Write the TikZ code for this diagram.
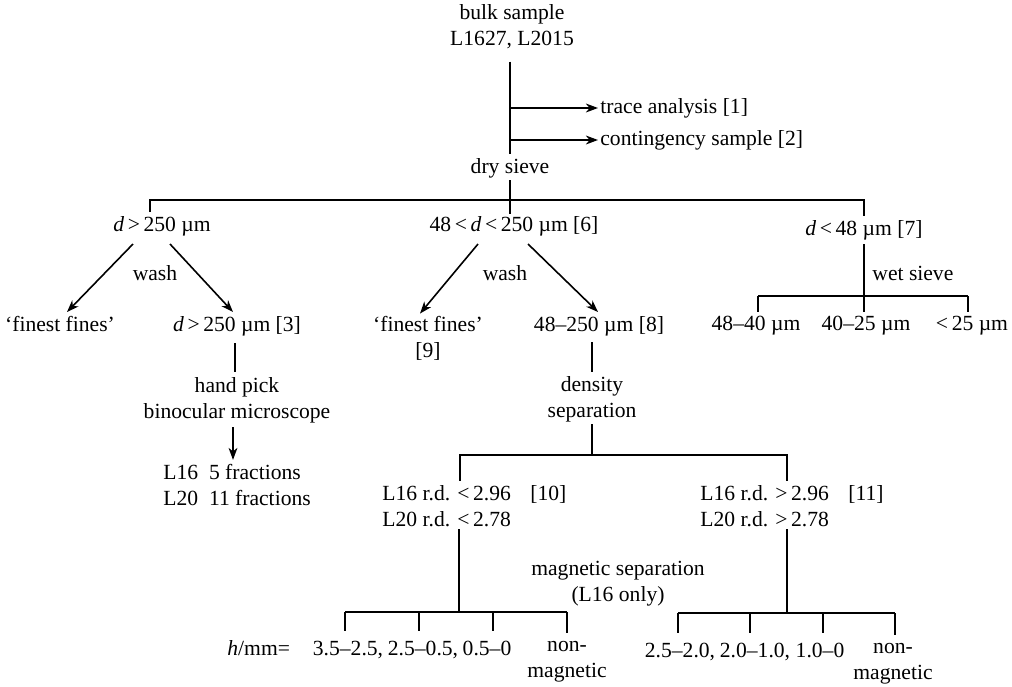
\documentclass[tikz,border=0pt]{standalone}
\usepackage{fontspec}
\setmainfont{Liberation Serif}
\usetikzlibrary{arrows.meta}
\begin{document}
\begin{tikzpicture}[x=0.5pt,y=-0.5pt,
  every node/.style={inner sep=0pt, font=\fontsize{10.8}{13}\selectfont},
  one/.style={text height=7.4pt, text depth=2.2pt},
  multi/.style={align=center},
  ln/.style={line width=1pt},
  tip/.style={-{Stealth[length=6pt,width=4.4pt,inset=1.8pt]}},
  arr/.style={line width=0.8pt, tip},
]
\useasboundingbox (0,0) rectangle (1012,686);

% top
\node[multi] (bulk) at (512,27) {bulk sample\\L1627, L2015};
\node[one] (dry) at (510,168) {dry sieve};
\node[one,anchor=west] (trace) at (600,108) {trace analysis [1]};
\node[one,anchor=west] (cont) at (600,140) {contingency sample [2]};
\coordinate (b1) at (510,108);
\coordinate (b2) at (510,140);
\draw[ln] ([yshift=-6pt]bulk.south -| dry.north) -- ([yshift=2pt]dry.north);
\draw[ln,tip] (b1) -- ([xshift=-1pt]trace.west);
\draw[ln,tip] (b2) -- ([xshift=-1pt]cont.west);

% first split
\node[one] (A) at (162,226) {\textit{d}\,>\,250 µm};
\node[one] (B) at (514,226) {48\,<\,\textit{d}\,<\,250 µm [6]};
\node[one] (C) at (864,230) {\textit{d}\,<\,48 µm [7]};
\coordinate (tl) at (150,200);
\coordinate (tr) at (864,200);
\draw[ln] ([yshift=2pt]A.north -| tl) -- (tl) -- (tr) -- ([yshift=2pt]C.north -| tr);
\draw[ln] ([yshift=-1pt]dry.south) -- ([yshift=1pt]dry.south |- B.north);

% second row
\node[one] (F1) at (60,326) {‘finest fines’};
\node[one] (D) at (237,326) {\textit{d}\,>\,250 µm [3]};
\node[multi] (F2) at (428,338) {‘finest fines’\\{[9]}};
\node[one] (E) at (599,326) {48–250 µm [8]};
\node[one] (wash1) at (155,275) {wash};
\node[one] (wash2) at (505,275) {wash};
\node[one,anchor=west] (wet) at (872,275) {wet sieve};

\draw[arr] ([xshift=-14.5pt,yshift=-4pt]A.south) -- ([xshift=3.5pt,yshift=2pt]F1.north);
\draw[arr] ([xshift=4pt,yshift=-4pt]A.south) -- ([xshift=-2pt,yshift=2pt]D.north);
\draw[arr] ([xshift=-18pt,yshift=-4pt]B.south) -- ([xshift=-4pt,yshift=1pt]F2.north);
\draw[arr] ([xshift=7pt,yshift=-4pt]B.south) -- ([xshift=-0.5pt,yshift=2pt]E.north);

% wet sieve
\coordinate (wl) at (758,296);
\coordinate (wm) at (864,296);
\coordinate (wr) at (968,296);
\node[one] (W1) at (756,325) {48–40 µm};
\node[one] (W2) at (866,325) {40–25 µm};
\node[one] (W3) at (972,325) {<\,25 µm};
\draw[ln] ([yshift=-2pt]C.south -| wm) -- (wm);
\draw[ln] (wl) -- (wr);
\draw[ln] (wl) -- ([yshift=1.5pt]W1.north -| wl);
\draw[ln] (wm) -- ([yshift=1.5pt]W2.north -| wm);
\draw[ln] (wr) -- ([yshift=1.5pt]W3.north -| wr);

% hand pick
\node[multi] (G) at (237,400) {hand pick\\binocular microscope};
\node[align=left,anchor=west] (H) at (163,485) {L16\enspace 5 fractions\\L20\enspace 11 fractions};
\draw[ln] ([xshift=-1pt,yshift=-3.5pt]D.south) -- ([xshift=-1pt,yshift=2.5pt]D.south |- G.north);
\draw[arr] ([xshift=-2pt,yshift=-2pt]G.south) -- ([xshift=-2pt,yshift=2pt]G.south |- H.north);

% density separation
\node[multi] (dens) at (592,399) {density\\separation};
\node[align=left,anchor=west] (I) at (382,506) {L16 r.d. <\,2.96\hspace{0.9em}[10]\\L20 r.d. <\,2.78};
\node[align=left,anchor=west] (J) at (700,506) {L16 r.d. >\,2.96\hspace{0.9em}[11]\\L20 r.d. >\,2.78};
\draw[ln] ([yshift=-3pt]E.south -| dens.north) -- ([yshift=2pt]dens.north);
\coordinate (dl) at (460,455);
\coordinate (dr) at (787,455);
\draw[ln] ([yshift=-1pt]dens.south) -- (dens.south |- dl);
\draw[ln] ([yshift=2pt]I.north -| dl) -- (dl) -- (dr) -- ([yshift=2pt]J.north -| dr);

\node[multi] (mag) at (618,584) {magnetic separation\\(L16 only)};

% bottom left
\coordinate (im) at (459,612);
\coordinate (l1) at (345,612);
\coordinate (l2) at (419,612);
\coordinate (l3) at (493,612);
\coordinate (l4) at (567,612);
\node[one,anchor=west] (hmm) at (227,650) {\textit{h}/mm=};
\node[one] (v1) at (348,650) {3.5–2.5,};
\node[one] (v2) at (423,650) {2.5–0.5,};
\node[one] (v3) at (487,650) {0.5–0};
\node[multi] (n1) at (567,662) {non-\\magnetic};
\draw[ln] ([yshift=-1pt]I.south -| im) -- (im);
\draw[ln] (l1) -- (l4);
\draw[ln] (l1) -- ([yshift=4.5pt]v1.north -| l1);
\draw[ln] (l2) -- ([yshift=4.5pt]v2.north -| l2);
\draw[ln] (l3) -- ([yshift=4.5pt]v3.north -| l3);
\draw[ln] (l4) -- ([yshift=4pt]n1.north -| l4);

% bottom right
\coordinate (jm) at (787,613);
\coordinate (r1) at (678,613);
\coordinate (r2) at (750,613);
\coordinate (r3) at (823,613);
\coordinate (r4) at (895,613);
\node[one] (u1) at (680,652) {2.5–2.0,};
\node[one] (u2) at (755,652) {2.0–1.0,};
\node[one] (u3) at (820,652) {1.0–0};
\node[multi] (n2) at (893,664) {non-\\magnetic};
\draw[ln] ([yshift=-1pt]J.south -| jm) -- (jm);
\draw[ln] (r1) -- (r4);
\draw[ln] (r1) -- ([yshift=4.5pt]u1.north -| r1);
\draw[ln] (r2) -- ([yshift=4.5pt]u2.north -| r2);
\draw[ln] (r3) -- ([yshift=4.5pt]u3.north -| r3);
\draw[ln] (r4) -- ([yshift=4pt]n2.north -| r4);
\end{tikzpicture}
\end{document}
